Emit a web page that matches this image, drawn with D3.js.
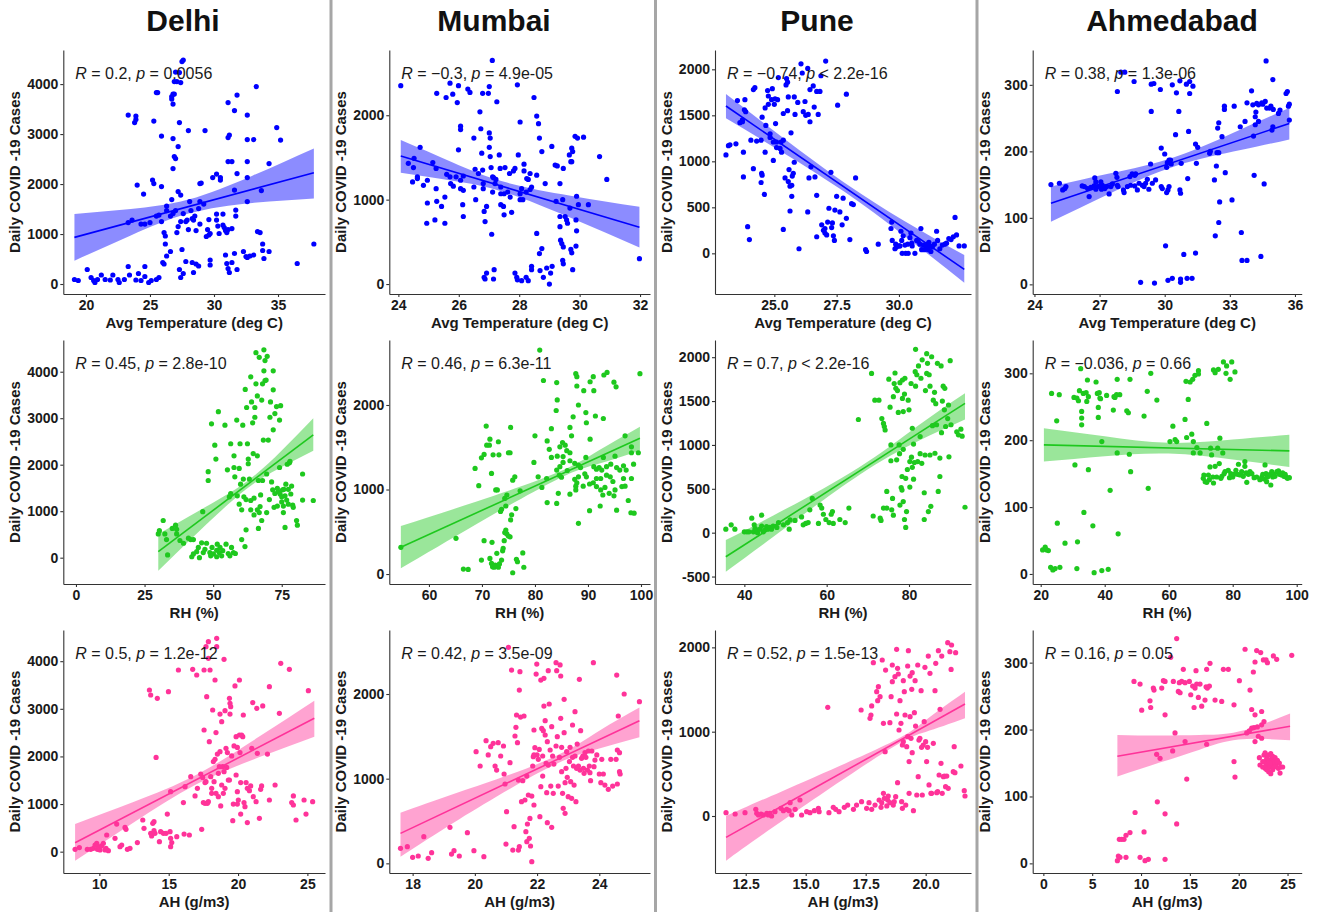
<!DOCTYPE html>
<html>
<head>
<meta charset="utf-8"/>
<title>Daily COVID-19 cases vs weather</title>
<script src="https://cdn.jsdelivr.net/npm/d3@7"></script>
<style>
  body { margin: 0; background: #fff; }
  svg text { font-family: "Liberation Sans", Arial, sans-serif; white-space: pre; }
  .axis path, .axis line { stroke: #333; stroke-width: 1.1; }
  .axis text { font-size: 14px; font-weight: bold; fill: #1a1a1a; font-family: "Liberation Sans", Arial, sans-serif; }
</style>
</head>
<body>
<svg id="chart" width="1318" height="912"></svg>
<script>
// ---- data ----
var cities = ["Delhi", "Mumbai", "Pune", "Ahmedabad"];
var xTitles = ["Avg Temperature (deg C)", "RH (%)", "AH (g/m3)"];
var yTitle = "Daily COVID -19 Cases";

var rValues = ["0.2", "\u22120.3", "\u22120.74", "0.38", "0.45", "0.46", "0.7", "\u22120.036", "0.5", "0.42", "0.52", "0.16"];
var pRel    = ["=", "=", "<", "=", "=", "=", "<", "=", "=", "=", "=", "="];
var pValues = ["0.0056", "4.9e-05", "2.2e-16", "1.3e-06", "2.8e-10", "6.3e-11", "2.2e-16", "0.66", "1.2e-12", "3.5e-09", "1.5e-13", "0.05"];

var xTicks = [
  [20, 25, 30, 35], [24, 26, 28, 30, 32], [25, 27.5, 30], [24, 27, 30, 33, 36],
  [0, 25, 50, 75], [60, 70, 80, 90, 100], [40, 60, 80], [20, 40, 60, 80, 100],
  [10, 15, 20, 25], [18, 20, 22, 24], [12.5, 15, 17.5, 20], [0, 5, 10, 15, 20, 25]
];
var yTicks = [
  [0, 1000, 2000, 3000, 4000], [0, 1000, 2000], [0, 500, 1000, 1500, 2000], [0, 100, 200, 300],
  [0, 1000, 2000, 3000, 4000], [0, 1000, 2000], [-500, 0, 500, 1000, 1500, 2000], [0, 100, 200, 300],
  [0, 1000, 2000, 3000, 4000], [0, 1000, 2000], [0, 1000, 2000], [0, 100, 200, 300]
];

var delhiTemp = [[19.1,90],[19.4,70],[20.1,290],[20.4,130],[20.6,70],[20.7,30],[20.9,90],[21.2,180],[21.5,90],[21.9,80],[22.1,180],[22.5,90],[22.6,30],[23.0,90],[23.3,350],[23.4,180],[23.9,80],[24.1,210],[24.3,70],[24.6,150],[24.6,350],[24.9,30],[25.1,70],[25.5,90],[25.7,130],
[23.3,3380],[23.9,3360],[23.9,3290],[23.8,3230],[24.0,1980],[24.5,1800],[23.3,1230],[23.6,1280],[24.3,1200],[24.6,1200],[25.0,1230],[25.2,2080],[25.3,2010],[25.3,3260],[25.5,3830],[25.6,3830],[25.5,1360],[25.7,1380],[25.9,1250],[25.9,1950],[25.9,2960],[26.0,430],[26.1,400],[26.1,1030],[26.2,960],[26.3,1560],[26.3,1470],[26.2,800],[26.3,560],
[26.7,3750],[26.7,3700],[26.8,3800],[26.9,3800],[26.8,3600],[26.9,4050],[27.1,4050],[27.5,4450],[27.6,4480],[27.4,4030],[27.0,4240],[27.3,4230],[26.8,2910],[26.9,2550],[27.0,2510],[27.2,2750],[26.8,2310],[27.3,3230],[28.0,3070],[27.2,1850],[27.4,1780],[26.7,1690],[26.6,1360],[26.8,1410],[27.0,1470],[27.1,1030],[27.2,1150],[27.4,1250],[27.6,1410],[27.8,1250],[27.9,1280],[28.0,1090],[28.1,1650],[28.2,1470],[28.3,1310],[28.4,1280],[28.5,1360],[28.6,1070],[28.8,1510],[28.9,1650],[28.9,2010],[29.0,2020],[28.9,1200],[27.5,690],[26.6,650],[27.8,450],[27.3,290],[27.4,130],[27.6,210],[28.3,430],[28.4,230],[28.6,400],[28.8,360],
[29.3,3070],[29.2,1600],[29.5,1090],[29.6,1290],[29.6,980],[29.7,1010],[29.4,950],[29.7,480],[29.7,380],[29.9,2130],[30.2,2200],[30.5,2130],[30.5,2080],[30.2,1400],[30.2,1280],[30.3,1160],[30.4,1010],[30.7,1400],[30.7,1180],[30.8,1130],[30.9,1070],[31.0,1030],[31.1,1090],[30.9,580],[31.0,410],[31.1,310],[31.2,230],[31.1,2450],[31.4,2450],[31.1,2930],[31.2,2980],[31.1,3630],[31.4,1110],[31.4,430],[31.6,3470],[31.8,3780],[31.6,1880],[31.7,1480],[31.7,1360],[31.6,610],[31.8,290],[31.8,2210],[32.6,3380],[32.6,2890],[32.6,2450],[32.6,2130],[32.6,1650],[32.3,650],[32.5,550],[32.6,530],[32.8,560],[33.1,580],[33.1,2890],[33.3,3950],[33.4,1050],[33.6,1030],[33.8,670],[33.8,800],[33.9,510],[33.7,1870],[34.3,2410],[34.3,650],[34.9,3130],[35.2,2880],[36.5,410],[37.8,800]];

var mumbaiTemp = [[24.08,2350],[24.72,1620],[24.33,1430],[24.52,1490],[24.5,1380],[24.47,1210],[24.63,1250],[24.63,1270],[24.83,1170],[24.96,1230],[24.96,960],[24.94,720],[25.14,1440],[25.25,1370],[25.25,1130],[25.27,980],[25.21,760],[25.27,2260],[25.58,2210],[25.43,920],[25.54,720],[25.54,1030],[25.6,1300],[25.71,2380],[25.8,2250],[25.95,2150],[25.91,1270],[25.71,1270],[25.73,1190],[25.82,1160],[25.99,2350],[26.06,1870],[26.06,1830],[25.99,1590],[26.06,1230],[26.06,1130],[26.15,1110],[26.13,940],[26.15,800],[26.15,1280],[26.3,2310],[26.37,2270],[26.5,1730],[26.54,1360],[26.5,1150],[26.56,1000],[26.65,1310],[26.7,2040],[26.73,1840],[26.76,1550],[26.79,1350],[26.81,1190],[26.81,1130],[26.84,860],[26.87,740],[26.92,920],[26.79,2260],[26.98,2260],[27.01,2340],[27.01,1790],[27.04,1730],[27.01,1620],[27.04,1510],[27.07,1380],[27.12,1270],[27.12,1090],[27.15,1260],[27.2,1190],[27.09,590],[27.26,2160],[27.11,2650],[27.23,1240],[27.34,1530],[27.37,1370],[27.39,1150],[27.39,1070],[27.39,940],[27.48,920],[27.5,820],[27.5,1070],[27.53,1380],[27.62,1090],[27.68,1310],[27.7,1030],[27.75,850],[27.81,1340],[27.86,1370],[27.94,2360],[28.03,1070],[28.03,1920],[27.97,1530],[28.03,1000],[28.08,1130],[28.12,1000],[28.16,1420],[28.16,1340],[28.23,1090],[28.25,1250],[28.3,1240],[28.36,1120],[28.36,1310],[28.41,1150],[28.49,2210],[28.58,1990],[28.64,1900],[28.67,1730],[28.58,1290],[28.75,1570],[28.58,600],[28.67,360],[28.75,420],[28.86,1190],[29.08,1630],[29.19,1410],[29.22,980],[29.26,1400],[29.35,1190],[29.35,800],[29.35,680],[29.37,520],[29.41,480],[29.44,1000],[29.46,1370],[29.46,440],[29.52,800],[29.57,760],[29.6,720],[29.66,1530],[29.71,1450],[29.74,1610],[29.77,1570],[29.74,1450],[29.68,900],[29.71,410],[29.74,370],[29.85,1750],[29.93,1730],[30.13,1740],[29.9,1040],[29.88,760],[29.9,630],[29.88,450],[29.96,940],[30.66,1510],[30.9,1240],[30.29,940],[29.0,0],[29.04,130],[27.17,170],[26.92,130],[26.84,80],[26.87,60],[27.15,60],[27.86,130],[27.92,80],[27.94,50],[28.23,80],[28.41,210],[28.41,170],[28.69,160],[28.8,80],[28.91,190],[29.09,210],[29.46,240],[29.44,280],[29.77,170],[31.98,300],[28.08,40],[28.3,40]];

var puneTemp = [[23.06,1070],[23.16,1170],[23.22,1180],[23.46,1190],[23.52,1660],[23.62,1420],[23.72,1450],[23.72,1430],[23.82,1670],[23.8,1560],[23.85,1540],[23.76,1100],[23.76,830],[23.93,290],[24.0,150],[24.06,1230],[24.16,1780],[24.22,1800],[24.29,1220],[24.16,920],[24.47,1230],[24.47,770],[24.49,870],[24.51,850],[24.51,1480],[24.6,640],[24.63,1580],[24.63,1100],[24.66,1390],[24.73,1770],[24.76,1710],[24.76,1620],[24.83,1300],[24.83,1260],[24.89,1670],[24.92,1790],[24.96,1010],[24.96,1210],[25.0,1620],[25.03,1680],[25.05,1410],[25.09,1210],[25.09,1150],[25.13,1670],[25.16,1910],[25.23,1140],[25.27,1210],[25.29,1100],[25.36,1230],[25.36,1520],[25.36,260],[25.43,820],[25.47,1830],[25.49,1900],[25.53,1860],[25.53,1550],[25.56,1700],[25.56,780],[25.59,910],[25.63,730],[25.63,460],[25.67,1310],[25.7,740],[25.7,620],[25.72,840],[25.76,870],[25.8,1700],[25.8,990],[25.83,1510],[25.99,50],[25.94,1640],[26.07,2060],[26.12,1960],[26.16,1540],[26.23,1650],[26.26,1500],[26.34,2010],[26.36,1510],[26.43,1780],[26.43,1430],[26.39,820],[26.34,450],[26.47,940],[26.56,1820],[26.6,1590],[26.63,830],[26.7,1760],[26.7,630],[26.7,180],[26.76,1510],[26.83,1760],[26.87,1930],[26.9,310],[26.97,250],[27.03,220],[27.03,270],[27.06,2090],[27.1,200],[27.14,340],[27.19,490],[27.27,880],[27.3,280],[27.33,330],[27.37,190],[27.41,140],[27.43,470],[27.5,620],[27.54,1610],[27.63,450],[27.72,310],[27.76,600],[27.89,1730],[27.89,380],[28.03,150],[28.1,540],[28.17,530],[28.26,820],[28.66,40],[28.7,20],[29.17,100],[29.68,270],[29.71,340],[29.73,140],[29.84,50],[29.87,100],[29.9,70],[30.0,80],[30.04,80],[30.08,240],[30.11,140],[30.13,0],[30.17,190],[30.24,90],[30.27,0],[30.35,100],[30.37,0],[30.44,170],[30.48,220],[30.51,110],[30.53,80],[30.64,0],[30.71,140],[30.77,130],[30.84,100],[30.88,270],[30.91,40],[30.98,90],[31.02,40],[31.11,70],[31.15,100],[31.17,40],[31.2,120],[31.24,80],[31.28,20],[31.34,70],[31.42,100],[31.51,240],[31.55,140],[31.64,50],[31.74,90],[31.84,100],[31.91,110],[32.0,160],[32.09,150],[32.18,180],[32.25,390],[32.31,200],[32.41,80],[32.62,80]];

var ahmTemp = [[24.76,150],[25.15,152],[25.3,142],[25.4,144],[25.45,147],[26.2,148],[26.3,147],[26.45,144],[26.52,132],[26.6,146],[26.75,148],[26.78,160],[26.83,154],[26.83,143],[26.9,147],[27.03,148],[27.06,154],[27.09,143],[27.13,149],[27.24,144],[27.33,147],[27.44,136],[27.52,147],[27.59,151],[27.75,167],[27.8,161],[27.82,149],[27.82,290],[27.85,147],[27.98,319],[28.1,142],[28.13,138],[28.16,319],[28.28,147],[28.4,162],[28.43,149],[28.5,166],[28.59,305],[28.62,164],[28.66,166],[28.62,148],[28.74,142],[28.82,152],[28.89,3],[28.97,149],[29.05,147],[29.12,152],[29.2,158],[29.27,143],[29.35,181],[29.38,260],[29.38,301],[29.43,152],[29.5,302],[29.53,2],[29.58,157],[29.8,293],[29.84,205],[29.84,147],[29.89,144],[30.0,196],[30.04,58],[30.09,176],[30.09,138],[30.12,183],[30.15,142],[30.15,6],[30.2,187],[30.2,147],[30.27,187],[30.3,181],[30.35,9],[30.35,300],[30.5,225],[30.54,288],[30.65,260],[30.7,142],[30.7,306],[30.73,3],[30.73,137],[30.73,8],[30.76,182],[30.88,45],[31.0,301],[31.03,9],[31.06,159],[31.1,230],[31.15,287],[31.15,305],[31.26,9],[31.3,298],[31.42,211],[31.42,47],[31.46,182],[31.52,206],[32.1,200],[32.07,197],[32.29,157],[32.33,73],[32.38,178],[32.41,198],[32.44,235],[32.49,243],[32.49,198],[32.53,124],[32.49,93],[32.64,222],[32.75,268],[32.75,263],[32.79,168],[33.1,127],[33.2,268],[33.48,237],[33.53,78],[33.56,36],[33.7,245],[33.79,36],[33.79,273],[34.0,291],[34.06,270],[34.09,223],[34.12,164],[34.17,252],[34.17,240],[34.2,259],[34.24,272],[34.32,245],[34.32,270],[34.43,42],[34.47,273],[34.52,271],[34.58,151],[34.63,275],[34.67,336],[34.7,265],[34.83,265],[34.89,268],[34.94,232],[34.98,237],[34.98,308],[35.0,263],[35.24,257],[35.31,262],[35.59,287],[35.65,290],[35.7,268],[35.74,271],[35.74,247]];

var delhiRH = [[30.0,510],[30.4,580],[31.8,800],[32.4,510],[33.0,390],[33.4,60],[35.1,630],[36.3,700],[36.7,610],[36.7,510],[37.9,370],[39.2,310],[41.0,420],[41.8,390],[42.2,20],[42.8,390],[42.8,80],[44.0,130],[44.6,220],[45.0,0],[45.8,320],[46.2,990],[46.4,110],[47.0,180],[47.6,310],[48.2,1660],[48.2,1850],[48.8,110],[49.1,40],[49.4,2880],[49.6,220],[50.1,80],[50.6,2420],[51.0,2120],[51.3,160],[51.3,20],[51.5,290],[51.9,3140],[52.2,110],[52.5,220],[53.1,40],[53.5,150],[54.3,2850],[54.7,290],[55.2,1890],[55.5,90],[55.9,1310],[56.1,40],[56.4,2450],[56.4,1380],[56.7,220],[57.4,110],[57.6,2190],[57.6,1940],[57.9,1740],[58.1,90],[58.6,2960],[58.8,1330],[59.5,1150],[59.5,1920],[59.8,2450],[60.0,1580],[60.4,390],[60.4,1030],[60.8,2850],[61.0,1690],[61.2,1310],[61.6,240],[61.7,3620],[62.0,600],[62.0,1250],[62.2,3230],[62.5,2450],[62.8,2120],[62.8,2020],[63.2,1690],[63.7,1230],[63.7,1030],[63.7,3890],[64.0,3350],[64.4,2900],[64.6,2240],[64.9,1280],[64.9,920],[65.2,3020],[65.2,3230],[65.6,3740],[65.6,4410],[66.1,3480],[66.1,1030],[66.1,2190],[66.5,1660],[66.5,630],[66.8,4310],[66.8,970],[67.1,1100],[67.3,1350],[67.7,800],[67.7,3390],[68.0,3740],[68.0,1660],[68.3,2530],[68.5,4470],[68.5,4020],[68.9,4240],[68.9,3810],[69.3,3820],[69.5,970],[69.5,1800],[69.7,4330],[70.1,2530],[70.5,1250],[70.7,3020],[70.9,3350],[71.3,1630],[71.7,1460],[71.9,3610],[71.9,4020],[71.9,2750],[72.2,1080],[72.5,1380],[72.5,3100],[73.1,3250],[73.4,1490],[73.4,1110],[73.8,1420],[74.2,1940],[74.2,2960],[74.4,1370],[74.6,3270],[75.0,1310],[75.0,1200],[75.3,1460],[75.6,1110],[75.6,970],[75.8,1470],[76.2,1330],[76.2,650],[76.5,1580],[76.8,1240],[77.0,2010],[77.4,1470],[77.4,1150],[77.8,2040],[78.0,2070],[78.3,1370],[78.6,1540],[79.0,1130],[79.2,1080],[80.4,800],[80.7,700],[82.6,1240],[82.6,1800],[86.5,1230]];

var mumbaiRH = [[54.7,316],[65.1,422],[66.5,59],[67.4,55],[80.9,2650],[81.6,2290],[84.1,2265],[87.7,2370],[87.9,2335],[90.4,2275],[91.0,2335],[93.0,2355],[93.6,2385],[94.9,2270],[95.3,2215],[99.8,2370],[91.1,2170],[87.9,2225],[89.2,2170],[84.2,2060],[84.0,1935],[88.2,2000],[89.6,1910],[91.4,1870],[87.2,1860],[89.7,1790],[83.1,1720],[86.6,1735],[92.9,1840],[80.0,1635],[82.3,1575],[85.2,1555],[85.7,1525],[86.9,1635],[90.4,1595],[97.0,1635],[82.7,1475],[84.7,1505],[86.0,1460],[86.6,1435],[89.6,1380],[92.9,1380],[95.1,1395],[98.2,1505],[98.2,1435],[98.6,1300],[99.5,1435],[79.8,1320],[83.1,1380],[84.2,1395],[85.3,1390],[86.6,1340],[87.5,1310],[88.2,1290],[85.3,1320],[84.7,1270],[84.1,1230],[86.1,1225],[88.6,1260],[91.1,1270],[91.6,1240],[92.1,1260],[92.6,1230],[93.5,1270],[94.3,1300],[95.4,1260],[96.7,1280],[97.2,1230],[80.6,1150],[82.2,1130],[84.6,1170],[85.0,1145],[87.5,1120],[87.9,1080],[88.2,1150],[89.4,1185],[89.7,1150],[91.0,1080],[91.6,1130],[92.4,1130],[93.5,1170],[94.2,1150],[94.7,1095],[96.0,1230],[96.7,1130],[87.7,1040],[89.1,1040],[90.3,1065],[91.6,1035],[92.4,995],[93.2,1025],[94.0,955],[95.1,995],[96.4,1035],[97.0,1040],[98.2,1130],[81.3,1025],[84.4,955],[86.6,945],[87.7,995],[92.8,935],[94.9,925],[97.6,870],[82.3,845],[84.1,835],[90.3,750],[92.3,805],[95.4,755],[98.1,725],[98.7,720],[88.2,600],[68.7,1250],[69.4,1045],[69.9,1375],[70.4,1415],[70.9,1525],[70.8,1750],[71.5,1595],[71.4,1525],[72.1,1410],[71.8,1190],[72.6,995],[72.9,995],[73.1,1565],[73.2,1410],[73.5,740],[73.7,765],[74.3,895],[74.5,805],[74.7,935],[75.0,1435],[75.3,1435],[75.4,1735],[75.8,1110],[76.2,1150],[76.4,775],[77.2,985],[69.9,165],[71.5,185],[71.8,125],[72.0,85],[72.3,80],[72.5,105],[72.8,245],[73.1,80],[73.3,120],[73.7,165],[73.9,275],[74.0,305],[74.2,395],[74.3,490],[74.5,520],[74.7,475],[75.0,450],[75.3,440],[75.4,640],[75.6,700],[75.8,15],[76.5,175],[76.7,145],[77.7,250],[77.9,80],[70.4,395],[71.9,375]];

var puneRH = [[35.5,40],[36.8,90],[37.7,40],[40.0,10],[40.6,10],[41.1,10],[41.8,165],[42.2,10],[42.4,90],[42.6,50],[43.0,30],[43.2,0],[43.8,40],[44.2,200],[44.2,75],[44.6,10],[45.0,30],[45.4,70],[45.7,40],[46.2,60],[46.6,40],[47.0,75],[47.9,60],[48.3,115],[49.5,90],[50.5,115],[50.9,40],[51.1,145],[52.3,140],[53.9,180],[54.3,90],[54.9,105],[55.5,115],[55.9,260],[56.5,390],[58.0,105],[58.4,315],[58.8,280],[59.2,210],[59.8,150],[60.6,115],[61.1,210],[61.4,240],[61.6,105],[63.2,150],[64.5,115],[65.4,280],[67.7,1290],[71.3,190],[70.9,1815],[71.7,1510],[72.7,1510],[73.0,165],[73.2,140],[73.4,1300],[73.8,1245],[74.0,1210],[73.8,280],[74.2,1170],[74.6,280],[74.6,470],[75.1,1750],[75.4,1430],[75.6,1000],[75.6,820],[75.8,260],[76.0,390],[76.2,200],[76.4,1700],[76.2,1550],[76.6,1820],[76.8,1645],[77.0,830],[77.2,1620],[77.4,1370],[77.6,1000],[77.7,900],[77.8,1710],[77.8,315],[78.1,515],[78.3,640],[78.4,1530],[78.3,485],[78.4,1740],[78.6,1380],[78.6,950],[78.6,355],[78.9,1580],[78.9,150],[79.0,1760],[79.2,60],[79.2,620],[79.4,240],[79.6,720],[79.8,1510],[80.0,1400],[80.2,520],[80.2,810],[80.5,1700],[80.6,860],[80.8,1190],[80.8,745],[81.1,1010],[81.1,610],[81.3,800],[81.5,1835],[81.6,1670],[81.6,2090],[81.9,1800],[82.1,810],[82.3,1900],[82.7,1095],[82.7,900],[82.9,1760],[83.1,790],[83.2,1970],[83.7,150],[83.7,455],[83.9,885],[84.0,1620],[84.3,2040],[84.3,1815],[84.5,1930],[84.7,240],[84.9,1800],[85.1,1670],[85.1,885],[85.3,300],[85.5,2005],[85.7,1220],[85.9,1510],[86.2,1600],[86.3,905],[86.5,1470],[86.7,1230],[86.9,1930],[87.1,470],[87.5,640],[87.5,850],[87.8,1900],[87.9,1140],[88.1,1500],[88.3,1670],[88.6,1400],[88.7,1645],[88.9,1210],[89.4,1300],[89.6,1455],[89.7,865],[90.0,1960],[90.2,1230],[91.6,1150],[92.0,1115],[92.6,1180],[92.9,1100],[93.6,290]];

var ahmRH = [[20.6,36],[21.4,40],[21.9,36],[22.4,35],[23.1,10],[23.8,6],[23.4,270],[24.5,8],[25.0,229],[25.2,76],[25.8,268],[26.0,10],[27.6,46],[30.4,264],[30.7,163],[31.3,8],[31.5,48],[31.3,263],[31.8,259],[32.1,274],[32.5,307],[32.8,243],[32.8,233],[32.8,223],[33.3,270],[33.5,92],[34.2,271],[34.4,258],[34.6,290],[34.9,265],[34.9,156],[36.3,72],[36.7,2],[37.3,287],[37.7,270],[38.0,249],[38.0,234],[38.3,271],[38.5,263],[38.7,262],[39.1,198],[39.1,5],[40.6,267],[41.1,7],[41.7,125],[42.7,245],[42.9,265],[43.2,264],[43.7,268],[43.9,291],[43.9,181],[44.2,60],[44.7,268],[46.9,244],[47.4,241],[47.7,179],[47.9,291],[48.1,153],[52.3,236],[53.3,273],[53.6,128],[54.4,300],[56.3,260],[60.4,198],[61.3,221],[62.0,201],[62.5,198],[65.1,231],[65.4,288],[65.6,204],[66.1,261],[66.7,287],[67.2,209],[67.7,181],[67.5,291],[67.7,198],[68.2,297],[68.8,189],[69.3,304],[69.3,299],[69.8,181],[70.8,143],[71.0,148],[71.4,138],[71.9,225],[71.9,137],[72.4,148],[72.7,141],[72.9,160],[73.1,188],[73.4,178],[73.8,145],[74.0,136],[74.0,305],[74.5,301],[74.5,161],[75.0,145],[75.3,188],[75.5,306],[75.8,165],[76.0,203],[76.3,143],[76.6,146],[76.9,181],[77.1,317],[77.3,150],[77.6,153],[77.9,300],[78.1,311],[78.6,155],[79.0,144],[79.2,291],[79.4,150],[79.7,317],[80.0,145],[80.4,149],[80.7,302],[81.0,155],[81.5,149],[81.8,164],[82.3,148],[82.8,153],[83.3,146],[83.8,168],[83.8,161],[84.2,151],[84.4,137],[84.9,149],[85.4,153],[86.0,150],[86.7,144],[87.5,145],[88.5,141],[89.1,145],[89.4,149],[89.8,142],[90.1,163],[90.4,150],[90.6,138],[90.8,145],[91.1,146],[91.7,149],[91.9,133],[92.2,153],[92.5,145],[92.9,149],[93.2,146],[93.8,153],[94.3,154],[94.6,149],[95.0,150],[95.3,148],[95.6,151],[96.0,146],[96.4,149],[96.7,145],[97.1,143],[97.7,144]];

var delhiAH = [[8.25,50],[8.56,85],[9.13,50],[9.38,50],[9.57,70],[9.69,140],[9.81,175],[9.86,50],[9.93,105],[10.05,35],[10.17,120],[10.29,175],[10.41,35],[10.48,70],[10.53,350],[10.65,20],[11.13,280],[11.25,580],[11.49,105],[11.61,140],[11.85,510],[11.92,470],[12.02,50],[12.21,70],[12.74,190],[13.13,665],[13.22,490],[13.61,3395],[13.7,3290],[13.7,385],[13.77,330],[13.85,595],[13.94,630],[13.94,440],[14.01,385],[14.09,1980],[14.18,3220],[14.33,210],[14.42,420],[14.62,385],[14.81,385],[14.9,790],[14.98,3360],[15.1,420],[15.14,280],[15.14,105],[15.22,190],[15.14,1260],[15.58,315],[15.7,3815],[16.06,1030],[16.11,370],[16.18,1365],[16.49,350],[16.59,1575],[16.73,3830],[16.9,1170],[17.02,3710],[17.07,1330],[17.31,1630],[17.38,470],[17.45,1560],[17.5,1030],[17.55,3815],[17.55,2555],[17.62,1450],[17.62,1015],[17.69,4305],[17.69,1470],[17.74,3255],[17.79,1015],[17.86,1050],[17.86,4410],[17.86,4060],[17.93,2310],[17.98,3815],[18.03,1575],[18.1,1330],[18.1,1225],[18.17,2975],[18.22,1890],[18.27,1470],[18.34,3605],[18.34,1940],[18.41,1225],[18.41,2500],[18.46,4480],[18.46,4305],[18.51,2050],[18.58,1645],[18.58,1155],[18.65,1785],[18.7,2100],[18.7,2890],[18.75,960],[18.82,1400],[18.82,2730],[18.89,1785],[18.94,1225],[18.99,4040],[18.99,1680],[19.06,1330],[19.06,2960],[19.13,2170],[19.18,1770],[19.23,2080],[19.3,1505],[19.38,3220],[19.38,1505],[19.42,3115],[19.42,2890],[19.47,3045],[19.54,2010],[19.62,650],[19.66,1000],[19.71,2220],[19.78,3480],[19.86,2415],[19.86,1610],[19.95,2190],[19.95,1000],[19.95,1260],[20.02,1085],[20.1,3605],[20.1,2450],[20.14,2080],[20.19,1450],[20.19,790],[20.26,2450],[20.34,2415],[20.38,2870],[20.43,1030],[20.5,945],[20.58,1450],[20.67,1330],[20.67,610],[20.82,1280],[20.91,1380],[20.99,2170],[21.06,3130],[21.1,1155],[21.3,1050],[21.35,3010],[21.39,2065],[21.54,700],[21.63,1310],[21.7,1380],[21.78,3060],[22.12,2050],[22.26,1085],[22.26,3465],[22.67,1400],[22.98,2905],[23.08,3955],[23.7,3830],[23.87,1030],[23.99,980],[23.99,1170],[24.18,665],[24.76,1085],[24.9,790],[25.07,3380],[25.38,1050]];

var mumbaiAH = [[17.61,177],[17.83,197],[18.0,71],[18.18,87],[18.36,315],[18.5,59],[18.61,126],[19.2,425],[19.25,110],[19.33,150],[19.5,87],[19.76,362],[19.97,150],[20.04,1319],[20.17,1150],[20.29,79],[20.36,1449],[20.43,1280],[20.51,1378],[20.59,1417],[20.65,1150],[20.7,1102],[20.75,1425],[20.83,1268],[20.92,1386],[20.94,1055],[20.97,937],[21.0,228],[21.02,610],[21.08,2551],[21.13,1189],[21.18,2283],[21.22,157],[21.26,433],[21.29,1504],[21.32,1606],[21.34,1752],[21.37,1425],[21.4,984],[21.43,2047],[21.4,157],[21.43,197],[21.45,2264],[21.47,1728],[21.5,728],[21.54,976],[21.58,1740],[21.61,748],[21.64,374],[21.67,1031],[21.67,256],[21.69,465],[21.72,807],[21.75,295],[21.77,531],[21.79,205],[21.83,20],[21.83,795],[21.86,1150],[21.88,1260],[21.9,1280],[21.9,689],[21.9,1575],[21.93,1366],[21.97,2236],[21.99,2354],[22.0,1280],[22.04,1228],[22.07,1346],[22.09,551],[22.12,905],[22.12,2165],[22.15,1594],[22.18,1031],[22.18,1268],[22.2,1567],[22.22,2185],[22.22,1858],[22.26,1685],[22.26,1516],[22.29,1181],[22.31,835],[22.33,1437],[22.33,480],[22.36,2276],[22.36,1161],[22.39,1882],[22.42,1339],[22.44,913],[22.47,425],[22.47,1614],[22.5,1268],[22.52,827],[22.54,1173],[22.61,2370],[22.61,1386],[22.63,2276],[22.65,1496],[22.68,913],[22.72,1252],[22.74,2343],[22.76,2213],[22.76,1713],[22.79,1370],[22.79,1083],[22.82,827],[22.84,650],[22.87,1937],[22.87,1543],[22.9,953],[22.9,591],[22.93,1122],[22.95,1319],[22.97,1016],[23.0,787],[23.04,1201],[23.06,1370],[23.08,965],[23.11,768],[23.14,1634],[23.14,1252],[23.17,1150],[23.19,925],[23.22,1791],[23.22,1268],[23.25,728],[23.27,1122],[23.29,1409],[23.33,1150],[23.36,2173],[23.38,1102],[23.4,1567],[23.43,1240],[23.47,1268],[23.49,1122],[23.51,1063],[23.54,1307],[23.57,1252],[23.62,1102],[23.65,1327],[23.68,1150],[23.7,1071],[23.72,976],[23.76,1327],[23.81,2370],[23.83,1142],[23.86,1220],[23.92,1280],[24.0,1055],[24.05,953],[24.08,1228],[24.13,1055],[24.18,925],[24.29,874],[24.37,1228],[24.43,913],[24.54,1228],[24.56,2224],[24.58,1339],[24.58,937],[24.61,1740],[24.65,1307],[24.65,1083],[24.67,1055],[24.8,2000],[25.29,1909]];

var puneAH = [[11.68,40],[12.06,24],[12.47,40],[12.92,79],[12.96,32],[13.03,12],[13.14,24],[13.24,12],[13.38,32],[13.44,12],[13.51,32],[13.58,0],[13.72,51],[13.97,91],[14.07,63],[14.21,79],[14.31,63],[14.35,158],[14.42,12],[14.56,79],[14.76,190],[14.83,12],[15.04,51],[15.18,40],[15.36,63],[15.53,91],[15.56,51],[15.92,1289],[15.97,40],[16.15,103],[16.25,79],[16.39,51],[16.61,103],[16.75,130],[16.99,79],[17.12,130],[17.31,1257],[17.33,170],[17.54,91],[17.64,158],[17.68,1158],[17.72,1198],[17.75,1305],[17.75,79],[17.82,1818],[17.89,130],[17.96,1474],[18.0,1368],[18.03,1534],[18.06,190],[18.1,1415],[18.14,103],[18.17,158],[18.19,1850],[18.24,1099],[18.24,269],[18.28,210],[18.31,763],[18.33,1731],[18.38,119],[18.42,190],[18.44,237],[18.51,158],[18.51,1107],[18.56,1415],[18.61,1791],[18.61,1593],[18.65,130],[18.69,170],[18.72,1652],[18.75,229],[18.79,1977],[18.79,1210],[18.83,1751],[18.83,395],[18.86,1684],[18.89,1020],[18.93,1368],[18.97,1099],[19.0,170],[19.03,842],[19.03,91],[19.07,1605],[19.07,882],[19.11,1474],[19.14,1198],[19.17,130],[19.21,822],[19.25,1779],[19.25,941],[19.28,1961],[19.31,644],[19.31,269],[19.35,1660],[19.35,1178],[19.39,921],[19.42,1502],[19.44,1700],[19.44,751],[19.49,63],[19.53,1225],[19.56,1605],[19.58,1067],[19.63,249],[19.67,1791],[19.69,466],[19.72,901],[19.76,921],[19.81,1486],[19.83,814],[19.86,249],[19.9,842],[19.94,1119],[19.97,1763],[20.0,882],[20.04,644],[20.08,814],[20.11,1897],[20.14,368],[20.18,1692],[20.22,269],[20.25,269],[20.32,862],[20.39,1486],[20.42,1811],[20.46,277],[20.5,289],[20.53,1961],[20.56,486],[20.6,1265],[20.64,625],[20.67,1897],[20.69,269],[20.74,466],[20.78,474],[20.83,348],[20.88,474],[20.92,2056],[20.94,328],[21.01,1949],[21.06,1739],[21.08,2028],[21.15,526],[21.19,822],[21.22,514],[21.25,1937],[21.47,593],[21.61,300],[21.64,237]];

var ahmAH = [[7.58,4],[7.68,11],[7.85,9],[7.78,36],[8.02,36],[8.26,36],[8.46,42],[8.46,9],[8.87,46],[9.28,272],[9.39,76],[9.9,9],[10.07,229],[9.9,268],[10.31,47],[10.41,4],[10.75,6],[10.92,243],[10.99,233],[11.26,262],[11.33,259],[11.6,163],[11.67,92],[11.95,157],[12.12,262],[12.29,273],[12.46,74],[12.46,222],[12.46,6],[12.46,272],[13.04,308],[13.24,168],[13.31,272],[13.48,195],[13.65,336],[13.65,59],[13.82,257],[13.92,270],[14.0,255],[14.16,272],[14.33,290],[14.51,182],[14.51,270],[14.68,126],[14.95,272],[15.09,252],[15.29,265],[15.43,233],[15.53,262],[15.63,288],[15.7,268],[15.87,248],[16.04,268],[16.21,235],[16.55,244],[16.66,264],[16.72,290],[16.72,178],[16.79,262],[17.06,299],[17.0,265],[17.58,244],[18.26,242],[18.43,290],[18.94,290],[19.52,237],[19.52,152],[19.62,129],[20.07,273],[20.65,320],[20.82,195],[21.09,198],[21.16,259],[21.33,202],[21.33,230],[21.5,286],[21.57,203],[21.67,182],[21.67,222],[21.67,301],[21.84,318],[21.91,204],[22.01,190],[22.12,158],[22.18,147],[22.25,315],[22.35,207],[22.35,187],[22.35,227],[22.46,144],[22.53,304],[22.59,162],[22.59,212],[22.7,152],[22.7,165],[22.8,304],[22.8,148],[22.87,157],[22.94,142],[22.94,300],[23.0,162],[23.04,148],[23.07,137],[23.14,154],[23.21,144],[23.28,164],[23.28,134],[23.38,149],[23.38,157],[23.48,140],[23.55,310],[23.55,152],[23.62,144],[23.72,158],[23.82,147],[23.89,305],[23.96,154],[24.06,142],[24.16,150],[24.23,135],[24.3,144],[22.7,142],[22.87,140],[23.21,150],[23.48,160],[23.89,152],[22.46,152],[24.5,144],[25.43,311]];

// fitted line ends and confidence band [x, lower, upper]
var fits = [
  [[19.1,933],[37.8,2227]], [[24.08,1517],[31.98,672]], [[23.06,1601],[32.62,-174]], [[24.76,122],[35.74,242]],
  [[30,130],[86.5,2640]], [[54.7,316],[99.8,1606]], [[35.5,-274],[93.6,1474]], [[21,193],[97.7,184]],
  [[8.25,189],[25.5,2800]], [[17.61,354],[25.29,1685]], [[11.68,-253],[21.64,1328]], [[7.58,160],[25.26,205]]
];
var bands = [
  [[19.1,467,1400],[23.5,972,1502],[28,1410,1690],[33,1622,2168],[37.8,1713,2713]],
  [[24.08,1319,1706],[25.8,1225,1441],[27.5,1091,1211],[29.7,785,1047],[31.98,434,916]],
  [[23.06,1467,1732],[25.4,1086,1246],[27.8,671,771],[30.2,195,355],[32.62,-319,-18]],
  [[24.76,94,147],[27.5,137,167],[30.5,178,192],[33.5,202,233],[35.74,218,265]],
  [[30,-280,510],[45,576,1016],[62,1470,1630],[75,1952,2304],[86.5,2300,3000]],
  [[54.7,67,568],[69,592,858],[84,1114,1194],[92,1305,1461],[99.8,1460,1744]],
  [[35.5,-445,-84],[50,55,269],[68,659,749],[82,1038,1214],[93.6,1290,1590]],
  [[21,168,218],[40,176,206],[60,180,196],[80,171,201],[97.7,160,208]],
  [[8.25,-189,581],[12.5,618,1048],[17,1415,1615],[21.5,1981,2411],[25.5,2415,3171]],
  [[17.61,79,598],[19.5,522,842],[22.3,1117,1217],[24,1356,1566],[25.29,1488,1842]],
  [[11.68,-530,0],[14,-62,292],[18.3,758,838],[20,997,1137],[21.64,1158,1474]],
  [[7.58,130,192],[12,151,191],[16,170,192],[20,185,197],[25.26,184,224]]
];

var series = [delhiTemp, mumbaiTemp, puneTemp, ahmTemp, delhiRH, mumbaiRH, puneRH, ahmRH, delhiAH, mumbaiAH, puneAH, ahmAH];

// ---- layout ----
var W = 1318, H = 912;
var colLeft = [63.3, 389.3, 715, 1032.7];
var colRight = [325, 650, 971, 1301.7];
var rowTop = [50, 340, 630];
var rowBottom = [294, 584, 873];
var titleX = [183, 494, 817, 1172];
var sepX = [331, 655.5, 977];
// axis domains at the plot edges
var xDomains = [[18.23,38.67],[23.70,32.33],[22.62,32.89],[23.92,36.31],
                [-4.62,90.77],[52.52,101.7],[32.87,95.06],[17.5,101.56],
                [7.40,26.27],[17.25,25.63],[11.22,21.89],[-1.09,26.45]];
var yDomains = [[-200,4682],[-118,2773],[-442,2210],[-14.5,352.4],
                [-566,4682],[-118,2769],[-585,2196],[-15,349.8],
                [-448,4655],[-114,2756],[-676,2206],[-14.4,348.8]];
var rowColors = ["#0000ff", "#1ec81e", "#ff3399"];

var svg = d3.select("#chart");
svg.append("rect").attr("width", W).attr("height", H).attr("fill", "#fff");

// column separators
svg.selectAll("line.sep").data(sepX).join("line")
  .attr("class", "sep")
  .attr("x1", function(d) { return d; }).attr("x2", function(d) { return d; })
  .attr("y1", 0).attr("y2", H)
  .attr("stroke", "#a6a6a6").attr("stroke-width", 3);

// city titles
svg.selectAll("text.city").data(cities).join("text")
  .attr("class", "city")
  .attr("x", function(d, i) { return titleX[i]; })
  .attr("y", 31)
  .attr("text-anchor", "middle")
  .attr("font-size", 30).attr("font-weight", "bold").attr("fill", "#111")
  .text(function(d) { return d; });

series.forEach(function(data, i) {
  var row = Math.floor(i / 4), col = i % 4;
  var L = colLeft[col], R = colRight[col], T = rowTop[row], B = rowBottom[row];
  var color = rowColors[row];
  var x = d3.scaleLinear().domain(xDomains[i]).range([L, R]);
  var y = d3.scaleLinear().domain(yDomains[i]).range([B, T]);
  var g = svg.append("g");

  // points
  g.append("g").selectAll("circle").data(data).join("circle")
    .attr("cx", function(d) { return x(d[0]); })
    .attr("cy", function(d) { return y(d[1]); })
    .attr("r", 2.6)
    .attr("fill", color);

  // confidence band
  var area = d3.area()
    .x(function(d) { return x(d[0]); })
    .y0(function(d) { return y(d[1]); })
    .y1(function(d) { return y(d[2]); })
    .curve(d3.curveNatural);
  g.append("path").datum(bands[i]).attr("d", area)
    .attr("fill", color).attr("fill-opacity", 0.45);

  // fit line
  var line = d3.line().x(function(d) { return x(d[0]); }).y(function(d) { return y(d[1]); });
  g.append("path").datum(fits[i]).attr("d", line)
    .attr("fill", "none").attr("stroke", color).attr("stroke-width", 1.6);

  // axes
  var xf = (i === 2 || i === 10) ? d3.format(".1f") : d3.format("d");
  g.append("g").attr("class", "axis")
    .attr("transform", "translate(0," + B + ")")
    .call(d3.axisBottom(x).tickValues(xTicks[i]).tickSize(3).tickSizeOuter(0).tickPadding(3)
      .tickFormat(function(d) { return xf(d); }));
  g.append("g").attr("class", "axis")
    .attr("transform", "translate(" + L + ",0)")
    .call(d3.axisLeft(y).tickValues(yTicks[i]).tickSize(3).tickSizeOuter(0).tickPadding(2)
      .tickFormat(function(d) { return d3.format("d")(d).replace("\u2212", "-"); }));

  // axis titles
  g.append("text")
    .attr("x", (L + R) / 2).attr("y", B + 34)
    .attr("text-anchor", "middle")
    .attr("font-size", 15).attr("font-weight", "bold").attr("fill", "#1a1a1a")
    .text(xTitles[row]);
  g.append("text")
    .attr("transform", "translate(" + (L - 43) + "," + ((T + B) / 2) + ") rotate(-90)")
    .attr("text-anchor", "middle")
    .attr("font-size", 15).attr("font-weight", "bold").attr("fill", "#1a1a1a")
    .text(yTitle);

  // correlation label
  var t = g.append("text")
    .attr("x", L + 12).attr("y", T + 29)
    .attr("font-size", 16).attr("fill", "#1a1a1a");
  t.append("tspan").attr("font-style", "italic").text("R");
  t.append("tspan").text(" = " + rValues[i] + ", ");
  t.append("tspan").attr("font-style", "italic").text("p");
  t.append("tspan").text(" " + pRel[i] + " " + pValues[i]);
});
</script>
</body>
</html>
